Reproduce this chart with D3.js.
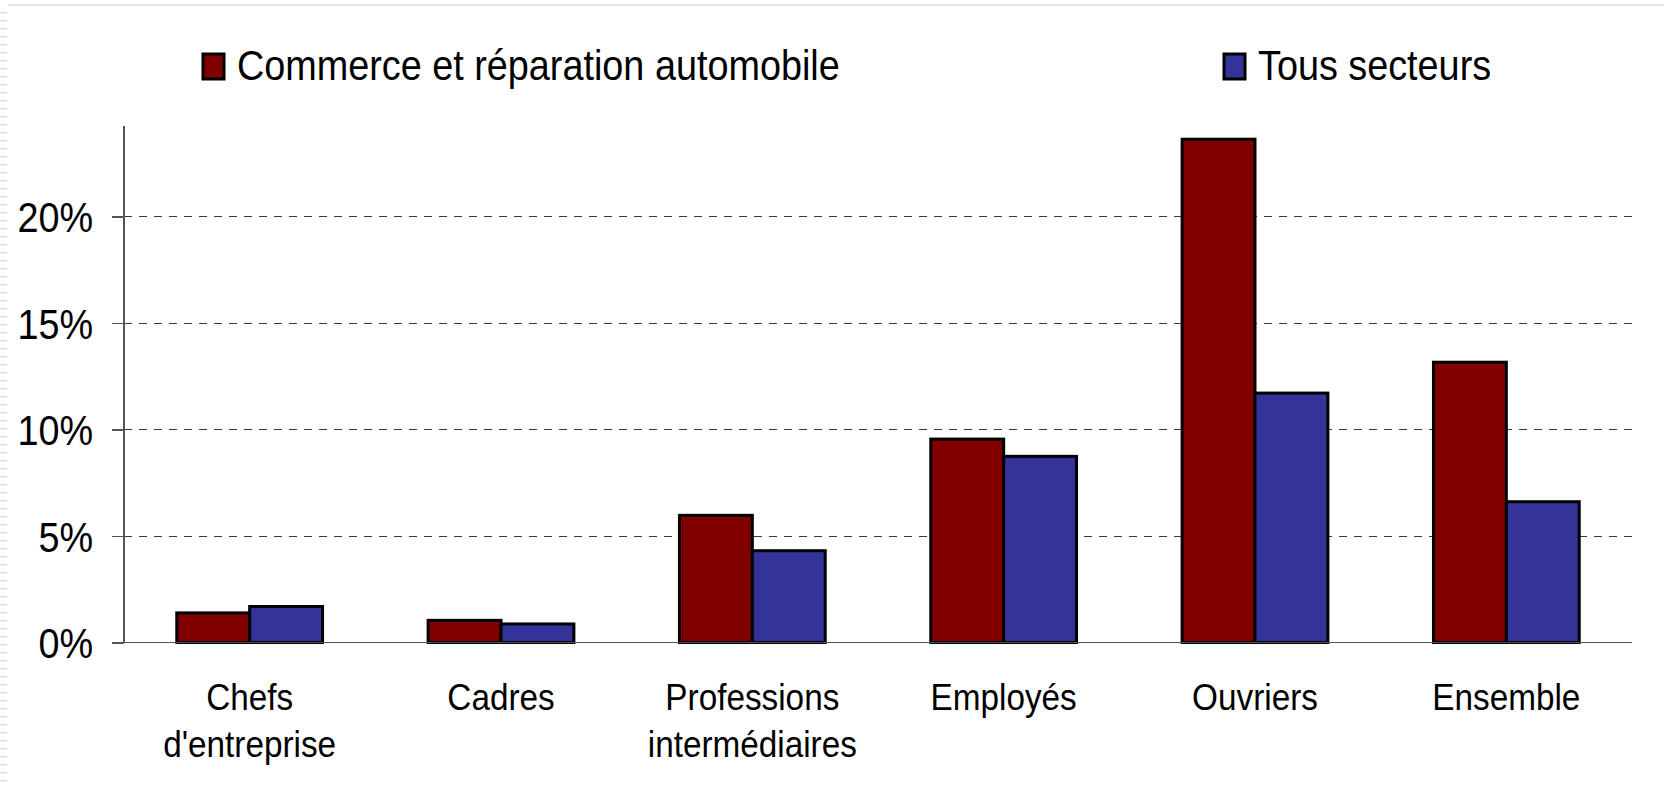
<!DOCTYPE html>
<html>
<head>
<meta charset="utf-8">
<script src="https://cdn.jsdelivr.net/npm/d3@7"></script>
<style>
  html, body { margin: 0; padding: 0; background: #ffffff; }
  svg { display: block; }
  text { font-family: "Liberation Sans", Arial, Helvetica, sans-serif; fill: #000; }
</style>
</head>
<body>
<svg id="chart" width="1664" height="787"></svg>
<script>
// ---- data ----
const categories = [
  ["Chefs", "d'entreprise"],
  ["Cadres"],
  ["Professions", "intermédiaires"],
  ["Employés"],
  ["Ouvriers"],
  ["Ensemble"]
];
const seriesNames = ["Commerce et réparation automobile", "Tous secteurs"];
const commerceValues = [1.39, 1.04, 5.97, 9.55, 23.63, 13.16];
const tousValues = [1.69, 0.87, 4.31, 8.74, 11.71, 6.61];
const yTicks = [0, 5, 10, 15, 20];
const seriesColors = ["#800000", "#333399"];

// ---- setup ----
const W = 1664, H = 787;
const svg = d3.select("#chart");
const SX = 0.9; // horizontal glyph compression of the original font

const catKeys = categories.map(c => c.join(" "));
const x0 = d3.scaleBand().domain(catKeys).range([124, 1632])
  .paddingInner(0.42).paddingOuter(0.21);
const x1 = d3.scaleBand().domain(seriesNames).range([0, x0.bandwidth()]);
const y = d3.scaleLinear().domain([0, 24.25]).range([642.5, 126]);
const color = d3.scaleOrdinal().domain(seriesNames).range(seriesColors);

// page artefacts: light top border and left striped edge
svg.append("rect").attr("x", 8).attr("y", 4).attr("width", W - 8).attr("height", 2).attr("fill", "#e4e4e4");
const defs = svg.append("defs");
const pat = defs.append("pattern").attr("id", "stripes").attr("patternUnits", "userSpaceOnUse")
  .attr("width", 8).attr("height", 8);
pat.append("rect").attr("x", 0).attr("y", 4).attr("width", 7).attr("height", 1.5).attr("fill", "#dcdcdc");
svg.append("rect").attr("x", 0).attr("y", 8).attr("width", 8).attr("height", H - 8).attr("fill", "url(#stripes)");

// gridlines
svg.append("g").selectAll("line")
  .data(yTicks.filter(t => t > 0))
  .join("line")
  .attr("x1", x0.range()[0]).attr("x2", x0.range()[1])
  .attr("y1", d => y(d)).attr("y2", d => y(d))
  .attr("stroke", "#3a3a3a").attr("stroke-width", 1)
  .attr("shape-rendering", "crispEdges")
  .attr("stroke-dasharray", "8,7");

// bars
const rows = catKeys.map((k, i) => ({ key: k, vals: [commerceValues[i], tousValues[i]] }));
const groups = svg.append("g").selectAll("g")
  .data(rows).join("g")
  .attr("transform", d => `translate(${x0(d.key)},0)`);
groups.selectAll("rect")
  .data(d => d.vals.map((v, j) => ({ name: seriesNames[j], v })))
  .join("rect")
  .attr("x", d => x1(d.name))
  .attr("width", x1.bandwidth())
  .attr("y", d => y(d.v))
  .attr("height", d => y(0) - y(d.v))
  .attr("fill", d => color(d.name))
  .attr("stroke", "#000").attr("stroke-width", 3);

// y axis
const yAxis = svg.append("g")
  .attr("transform", `translate(${x0.range()[0]},0)`)
  .call(d3.axisLeft(y).tickValues(yTicks).tickFormat(d => d + "%").tickSize(12).tickPadding(0));
yAxis.select(".domain").remove();
yAxis.selectAll(".tick line").attr("stroke", "#555").attr("stroke-width", 1.5)
  .attr("shape-rendering", "crispEdges");
yAxis.selectAll(".tick text")
  .attr("x", -31 / SX)
  .attr("dy", "0.36em")
  .attr("transform", `scale(${SX},1)`)
  .style("font-size", "42px");
yAxis.append("line")
  .attr("x1", 0).attr("x2", 0)
  .attr("y1", y.range()[1]).attr("y2", y(0))
  .attr("stroke", "#555").attr("stroke-width", 1.5)
  .attr("shape-rendering", "crispEdges");

// x axis line
svg.append("line")
  .attr("x1", x0.range()[0] - 12).attr("x2", x0.range()[1])
  .attr("y1", y(0)).attr("y2", y(0))
  .attr("stroke", "#555").attr("stroke-width", 1.5)
  .attr("shape-rendering", "crispEdges");

// category labels
const catG = svg.append("g").selectAll("text")
  .data(categories).join("text")
  .attr("text-anchor", "middle")
  .attr("transform", (d, i) => `translate(${x0(catKeys[i]) + x0.bandwidth() / 2},710) scale(${SX},1)`)
  .style("font-size", "37px");
catG.selectAll("tspan")
  .data(d => d).join("tspan")
  .attr("x", 0)
  .attr("y", (d, i) => i * 47)
  .text(d => d);

// legend
const legendPos = [{ sx: 203, tx: 237 }, { sx: 1224, tx: 1258 }];
const leg = svg.append("g").selectAll("g")
  .data(seriesNames).join("g");
leg.append("rect")
  .attr("x", (d, i) => legendPos[i].sx).attr("y", 54)
  .attr("width", 21).attr("height", 25)
  .attr("fill", d => color(d))
  .attr("stroke", "#000").attr("stroke-width", 3);
leg.append("text")
  .attr("transform", (d, i) => `translate(${legendPos[i].tx},80) scale(${SX},1)`)
  .style("font-size", "42px")
  .text(d => d);
</script>
</body>
</html>
